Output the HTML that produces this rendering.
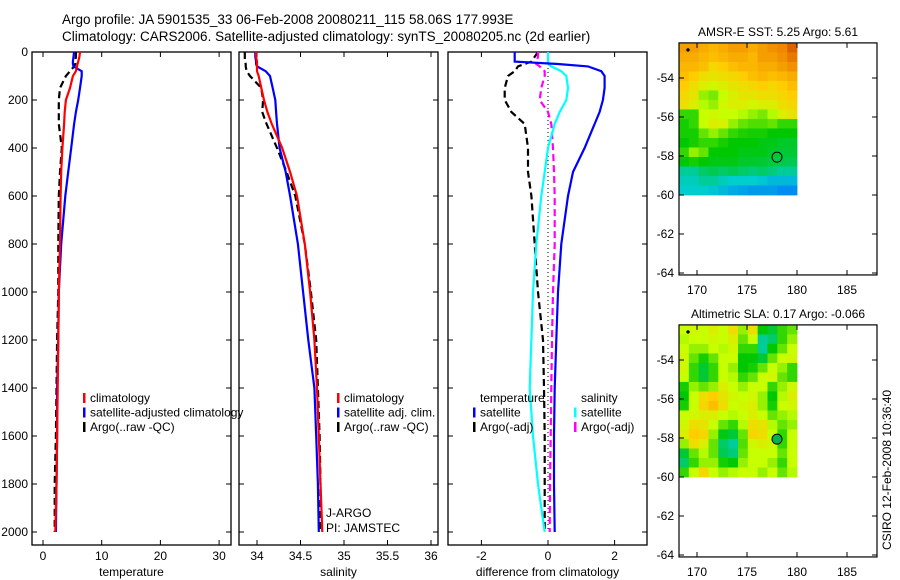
<!DOCTYPE html>
<html><head><meta charset="utf-8"><style>
body{margin:0;background:#fff;}
svg{display:block;font-family:"Liberation Sans",sans-serif;}
</style></head><body>
<svg id="fig" width="900" height="580" viewBox="0 0 900 580" xmlns="http://www.w3.org/2000/svg">
<rect width="900" height="580" fill="#fff"/>
<text x="62" y="24" font-size="13.5">Argo profile: JA 5901535_33 06-Feb-2008 20080211_115 58.06S 177.993E</text>
<text x="62" y="41" font-size="13.5">Climatology: CARS2006. Satellite-adjusted climatology: synTS_20080205.nc (2d earlier)</text>
<g id="g"></g>
</svg>
<script>
const depths=[0,20,40,50,60,80,100,150,200,250,300,400,500,600,800,1000,1200,1400,1600,1800,2000];
const tClim=[6.3,6.2,6.0,5.9,5.8,5.6,5.1,4.6,3.9,3.7,3.6,3.3,3.1,3.0,2.9,2.7,2.6,2.5,2.4,2.3,2.1];
const tSat=[5.3,5.2,5.1,5.1,5.2,6.6,6.6,6.3,6.0,5.6,5.3,4.8,4.3,3.8,3.1,2.7,2.6,2.4,2.4,2.3,2.2];
const tArgo=[5.6,5.6,5.5,5.5,5.3,4.6,3.9,2.9,2.7,2.7,2.7,3.2,2.9,2.7,2.6,2.6,2.4,2.3,2.2,2.0,2.0];
const sClim=[33.99,33.99,34.0,34.0,34.0,34.0,34.02,34.05,34.08,34.12,34.17,34.29,34.38,34.46,34.55,34.61,34.66,34.69,34.71,34.73,34.75];
const sSat=[33.98,33.98,33.99,33.99,34.0,34.10,34.15,34.18,34.21,34.22,34.23,34.26,34.33,34.38,34.47,34.53,34.59,34.66,34.68,34.70,34.71];
const sArgo=[33.86,33.86,33.86,33.87,33.87,33.88,33.92,34.05,34.07,34.06,34.11,34.23,34.34,34.44,34.55,34.62,34.68,34.70,34.72,34.73,34.73];
const dTsat=[-1.0,-1.0,-1.0,0.3,1.2,1.6,1.7,1.7,1.65,1.55,1.4,1.1,0.75,0.6,0.4,0.3,0.25,0.2,0.18,0.18,0.2];
const dTargo=[-0.3,-0.4,-0.5,-0.7,-0.9,-1.0,-1.2,-1.3,-1.3,-1.1,-0.7,-0.6,-0.6,-0.5,-0.4,-0.3,-0.15,-0.12,-0.1,-0.1,-0.1];
const dSsat=[0.0,0.0,0.0,0.0,0.1,0.4,0.55,0.6,0.55,0.35,0.2,0.0,-0.1,-0.2,-0.35,-0.45,-0.5,-0.55,-0.45,-0.3,-0.1];
const dSargo=[-0.3,-0.3,-0.35,-0.35,-0.25,-0.1,-0.1,-0.2,-0.25,0.0,0.1,0.15,0.18,0.2,0.2,0.15,0.12,0.1,0.08,0.06,0.05];
const depthTicks=[0,200,400,600,800,1000,1200,1400,1600,1800,2000];
const tTicks=[0,10,20,30];
const sTicks=[34,34.5,35,35.5,36];
const sTickLabels=["34","34.5","35","35.5","36"];
const dTicks=[-2,0,2];
const lonTicks=[170,175,180,185];
const latTicks=[-54,-56,-58,-60,-62,-64];
const sstGrid=[
[.85,.85,.82,.8,.82,.85,.85,.82,.85,.88,.9,.95],
[.82,.82,.8,.78,.8,.82,.82,.8,.85,.85,.88,.92],
[.8,.8,.78,.72,.75,.78,.8,.8,.82,.82,.85,.88],
[.78,.75,.7,.68,.7,.72,.75,.78,.8,.78,.8,.82],
[.75,.7,.65,.62,.65,.68,.7,.72,.75,.72,.75,.78],
[.72,.68,.55,.52,.6,.65,.68,.68,.7,.7,.72,.75],
[.7,.65,.58,.55,.62,.65,.65,.62,.65,.65,.7,.72],
[.45,.45,.6,.62,.6,.6,.58,.55,.52,.58,.65,.68],
[.42,.45,.6,.65,.64,.55,.5,.48,.48,.5,.45,.45],
[.42,.42,.5,.55,.5,.45,.43,.42,.42,.4,.4,.4],
[.4,.42,.45,.45,.42,.4,.4,.4,.38,.38,.36,.36],
[.45,.55,.5,.4,.4,.4,.38,.38,.38,.36,.35,.35],
[.4,.42,.4,.38,.38,.38,.36,.36,.35,.34,.33,.32],
[.25,.25,.3,.32,.3,.32,.3,.28,.3,.28,.25,.25],
[.22,.22,.25,.25,.22,.2,.2,.2,.18,.15,.15,.15],
[.2,.2,.2,.18,.15,.12,.1,.08,.08,.08,.05,.05]];
const slaGrid=[
[.6,.62,.6,.65,.6,.7,.55,.7,.4,.35,.45,.5],
[.58,.6,.6,.62,.6,.65,.5,.6,.25,.3,.45,.55],
[.6,.55,.55,.6,.58,.62,.45,.45,.25,.4,.5,.6],
[.62,.5,.42,.5,.6,.6,.4,.4,.35,.5,.6,.62],
[.62,.45,.35,.45,.6,.55,.4,.42,.5,.6,.55,.45],
[.6,.45,.35,.45,.6,.58,.45,.5,.6,.62,.5,.45],
[.42,.55,.5,.55,.65,.6,.55,.6,.6,.45,.55,.62],
[.4,.6,.7,.75,.68,.62,.6,.62,.55,.4,.58,.65],
[.42,.6,.72,.78,.7,.6,.62,.65,.55,.42,.6,.62],
[.6,.62,.65,.65,.6,.58,.6,.65,.6,.5,.55,.58],
[.62,.7,.68,.6,.5,.45,.58,.7,.68,.58,.5,.55],
[.65,.75,.72,.55,.38,.35,.5,.72,.7,.6,.45,.6],
[.55,.7,.65,.5,.3,.25,.48,.62,.65,.62,.45,.6],
[.35,.5,.58,.5,.32,.28,.5,.6,.6,.6,.5,.6],
[.3,.45,.55,.55,.42,.4,.55,.6,.6,.55,.45,.6],
[.45,.6,.72,.6,.55,.58,.6,.6,.55,.6,.5,.58]];
const argoLon=178, argoLat=-58.06;

const NS="http://www.w3.org/2000/svg";
const G=document.getElementById('g');
function mk(tag,attrs,parent){const e=document.createElementNS(NS,tag);for(const k in attrs)e.setAttribute(k,attrs[k]);(parent||G).appendChild(e);return e;}
function txt(x,y,s,anchor,size,parent){const t=mk('text',{x:x,y:y,'font-size':size||12,'text-anchor':anchor||'start'},parent);t.textContent=s;return t;}
const yD=d=>52+d*0.24;

function panel(name,x0,x1,xs,ticks,labels,title){
  const g=mk('g',{});
  
  
  const b=mk('rect',{x:x0,y:52,width:x1-x0,height:493,fill:'none',stroke:'#000','stroke-width':1.3},g);
  
  
  depthTicks.forEach(d=>{mk('line',{x1:x0,x2:x0+5,y1:yD(d),y2:yD(d),stroke:'#000'},g);mk('line',{x1:x1,x2:x1-5,y1:yD(d),y2:yD(d),stroke:'#000'},g);});
  ticks.forEach((v,i)=>{const x=xs(v);mk('line',{x1:x,x2:x,y1:545,y2:540,stroke:'#000'},g);mk('line',{x1:x,x2:x,y1:52,y2:57,stroke:'#000'},g);
    const t=txt(x,560,labels[i],'middle',12,g);});
  const at=txt((x0+x1)/2,576,title,'middle',12,g);
  
  
  return g;
}
function series(g,xs,vals,color,dash,name){
  const pts=vals.map((v,i)=>xs(v).toFixed(1)+','+yD(depths[i]).toFixed(1)).join(' ');
  const p=mk('polyline',{points:pts,fill:'none',stroke:color,'stroke-width':2.2},g);
  if(dash)p.setAttribute('stroke-dasharray',dash);
  
  
}
function legend(g,x,y,items){
  items.forEach((it,i)=>{
    const yy=y+i*14.5;
    if(it.c){const r=mk('rect',{x:x,y:yy-9,width:2.5,height:10,fill:it.c},g);
      }
    const t=txt(x+7,yy,it.t,'start',12,g);
    
    
  });
}
depthTicks.forEach(d=>{const t=txt(28,yD(d)+4,String(d),'end',12);});

const xT=v=>43+v*5.87;
const p1=panel('temperature-panel',32,231,xT,tTicks,tTicks.map(String),'temperature');
series(p1,xT,tArgo,'#000','7,4','temp-argo-line');
series(p1,xT,tSat,'#0000ff',null,'temp-satellite-line');
series(p1,xT,tClim,'#ff0000',null,'temp-climatology-line');
legend(p1,83,402,[{c:'#ff0000',t:'climatology'},{c:'#0000ff',t:'satellite-adjusted climatology'},{c:'#000',t:'Argo(..raw -QC)'}]);

const xS=v=>257+(v-34)*87;
const p2=panel('salinity-panel',239,438,xS,sTicks,sTickLabels,'salinity');
series(p2,xS,sArgo,'#000','7,4','sal-argo-line');
series(p2,xS,sSat,'#0000ff',null,'sal-satellite-line');
series(p2,xS,sClim,'#ff0000',null,'sal-climatology-line');
legend(p2,337,402,[{c:'#ff0000',t:'climatology'},{c:'#0000ff',t:'satellite adj. clim.'},{c:'#000',t:'Argo(..raw -QC)'}]);
txt(326,517,'J-ARGO','start',12,p2);
txt(326,532,'PI: JAMSTEC','start',12,p2);

const xDf=v=>548+v*33.3;
const p3=panel('difference-panel',448,647,xDf,dTicks,dTicks.map(String),'difference from climatology');
const z=mk('line',{x1:xDf(0),x2:xDf(0),y1:yD(0),y2:yD(2000),stroke:'#000','stroke-dasharray':'1,3'},p3);

series(p3,xDf,dTargo,'#000','7,4','diff-temp-argo-line');
series(p3,xDf,dSargo,'#ff00ff','7,4','diff-sal-argo-line');
series(p3,xDf,dSsat,'#00ffff',null,'diff-sal-satellite-line');
series(p3,xDf,dTsat,'#0000ff',null,'diff-temp-satellite-line');
legend(p3,473,402,[{t:'temperature'},{c:'#0000ff',t:'satellite'},{c:'#000',t:'Argo(-adj)'}]);
legend(p3,574,402,[{t:'salinity'},{c:'#00ffff',t:'satellite'},{c:'#ff00ff',t:'Argo(-adj)'}]);

const stops=[[0,[0,120,255]],[0.2,[0,205,205]],[0.4,[0,200,0]],[0.6,[200,255,0]],[0.75,[255,205,0]],[0.9,[240,135,0]],[1,[200,60,0]]];
function cmap(v){for(let i=1;i<stops.length;i++){if(v<=stops[i][0]){const a=stops[i-1],b=stops[i];const t=(v-a[0])/(b[0]-a[0]);return 'rgb('+a[1].map((c,k)=>Math.round(c+(b[1][k]-c)*t)).join(',')+')';}}return 'rgb(200,60,0)';}
function map(name,top,title,grid,fillCircle){
  const g=mk('g',{});
  
  
  const lx=v=>697+(v-170)*10;
  const ly=v=>top+36+(-54-v)*19.5;
  const x0=lx(168.2),x1=lx(180),y0=ly(-52.2),y1=ly(-60);
  const rows=grid.length,cols=grid[0].length,cw=(x1-x0)/cols,ch=(y1-y0)/rows;
  grid.forEach((row,r)=>row.forEach((v,c)=>{
    const cell=mk('rect',{x:(x0+c*cw).toFixed(2),y:(y0+r*ch).toFixed(2),width:(cw+0.4).toFixed(2),height:(ch+0.4).toFixed(2),fill:cmap(v)},g);
    
    
  }));
  const bx=679,bx1=877,by0=y0,by1=ly(-64.1);
  const fr=mk('rect',{x:bx,y:by0,width:bx1-bx,height:by1-by0,fill:'none',stroke:'#000','stroke-width':1.2},g);
  
  
  lonTicks.forEach(v=>{mk('line',{x1:lx(v),x2:lx(v),y1:by0,y2:by0+5,stroke:'#000'},g);mk('line',{x1:lx(v),x2:lx(v),y1:by1,y2:by1-5,stroke:'#000'},g);
    const t=txt(lx(v),by1+19,String(v),'middle',12,g);});
  latTicks.forEach(v=>{mk('line',{x1:bx,x2:bx+5,y1:ly(v),y2:ly(v),stroke:'#000'},g);mk('line',{x1:bx1,x2:bx1-5,y1:ly(v),y2:ly(v),stroke:'#000'},g);
    const t=txt(674,ly(v)+4,String(v),'end',12,g);});
  const tt=txt(778,top-6,title,'middle',12,g);
  
  
  const c=mk('circle',{cx:lx(argoLon),cy:ly(argoLat),r:5,fill:fillCircle||'none',stroke:'#000','stroke-width':1},g);
  
  
  const d=mk('circle',{cx:688,cy:y0+7,r:1.7,fill:'#000'},g);
  
  
  return {g,lx,ly};
}
const m1=map('sst-map',42,'AMSR-E SST: 5.25 Argo: 5.61',sstGrid,null);
const m2=map('sla-map',324,'Altimetric SLA: 0.17 Argo: -0.066',slaGrid,'#00b450');
const st=txt(0,0,'CSIRO 12-Feb-2008 10:36:40','middle',12);
st.setAttribute('transform','translate(891,470) rotate(-90)');


</script>
</body></html>
